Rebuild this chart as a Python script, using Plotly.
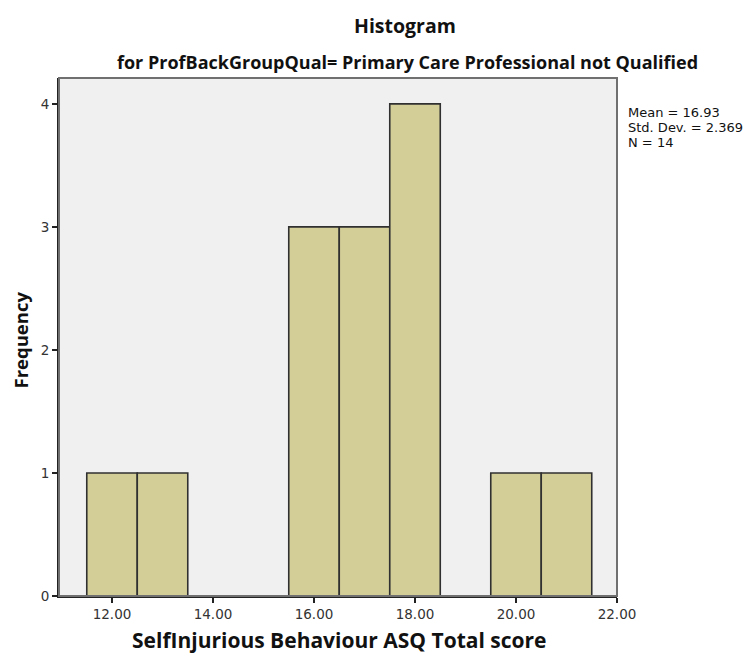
import plotly.graph_objects as go

bin_centers = [12, 13, 16, 17, 18, 20, 21]
frequencies = [1, 1, 3, 3, 4, 1, 1]
x_tick_vals = [12, 14, 16, 18, 20, 22]
x_tick_text = ["12.00", "14.00", "16.00", "18.00", "20.00", "22.00"]
y_tick_vals = [0, 1, 2, 3, 4]
stats_lines = ["Mean = 16.93", "Std. Dev. = 2.369", "N = 14"]

FONT = "Open Sans"
TICKFONT = "DejaVu Sans"

# page body has an 8px default margin; figure sized/offset to compensate
fig = go.Figure(go.Bar(
    x=bin_centers, y=frequencies, width=1,
    marker=dict(color="#D3CE98", line=dict(color="#303030", width=1.6)),
    hoverinfo="x+y",
))

fig.update_layout(
    width=745, height=646,
    margin=dict(l=51, r=136, t=70, b=58, autoexpand=False),
    paper_bgcolor="white", plot_bgcolor="#F0F0F0",
    showlegend=False,
    font=dict(family=FONT, color="#222"),
)
fig.add_shape(type="rect", xref="paper", yref="paper", x0=0, x1=1, y0=0, y1=1,
              line=dict(color="#707070", width=2))
fig.add_annotation(text="<b>Histogram</b>", xref="paper", yref="paper", x=0.62, y=1.102,
                   xanchor="center", yanchor="middle", showarrow=False,
                   font=dict(size=19.5, color="#111", family=FONT))
fig.add_annotation(text="<b>for ProfBackGroupQual= Primary Care Professional not Qualified</b>",
                   xref="paper", yref="paper", x=0.624, y=1.031,
                   xanchor="center", yanchor="middle", showarrow=False,
                   font=dict(size=18, color="#111", family=FONT))
for i, line in enumerate(stats_lines):
    fig.add_annotation(text=line, xref="paper", yref="paper", x=1.016, y=0.934 - 0.029 * i,
                       xanchor="left", yanchor="middle", align="left", showarrow=False,
                       font=dict(size=13, color="#111", family=TICKFONT))
fig.add_annotation(text="<b>SelfInjurious Behaviour ASQ Total score</b>",
                   xref="paper", yref="paper", x=0.502, y=-0.085,
                   xanchor="center", yanchor="middle", showarrow=False,
                   font=dict(size=21, color="#111", family=FONT))
fig.add_annotation(text="<b>Frequency</b>", textangle=-90,
                   xref="paper", yref="paper", x=-0.0692, y=0.494,
                   xanchor="center", yanchor="middle", showarrow=False, borderpad=0,
                   font=dict(size=18.5, color="#111", family=FONT))

fig.update_xaxes(
    range=[10.95, 22.0], tickvals=x_tick_vals, ticktext=x_tick_text,
    showline=True, linecolor="#222", linewidth=1.8, mirror=False,
    ticks="outside", ticklen=5, tickcolor="#222", tickwidth=1.5,
    tickfont=dict(size=13.5, color="#333", family=TICKFONT), showgrid=False, zeroline=False,
    automargin=False,
)
fig.update_yaxes(
    range=[0, 4.21], tickvals=y_tick_vals,
    showline=True, linecolor="#222", linewidth=1.8, mirror=False,
    ticks="outside", ticklen=5, tickcolor="#222", tickwidth=1.5,
    tickfont=dict(size=13.5, color="#333", family=TICKFONT), showgrid=False, zeroline=False,
    automargin=False,
)

fig.write_html("out.html")
